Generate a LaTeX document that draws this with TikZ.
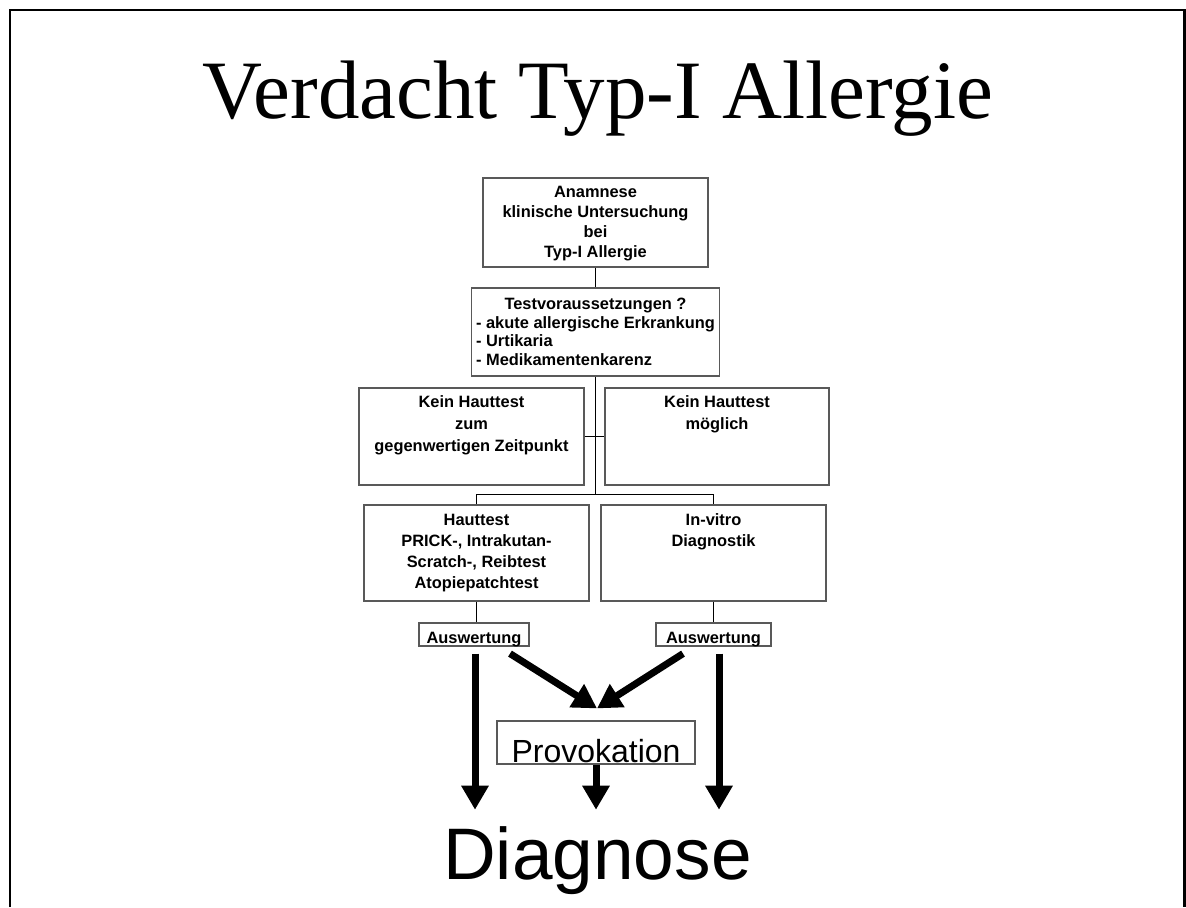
\documentclass[tikz,border=0pt]{standalone}
\usepackage{fontspec}
\setmainfont{Liberation Serif}
\setsansfont{Liberation Sans}
\usetikzlibrary{arrows.meta,positioning,calc}
\tikzset{
  >={Triangle[length=12pt,width=13pt]},
  vbox/.style={draw=black!65, line width=0.6pt, inner sep=0pt},
  vtxt/.style={inner sep=0pt, align=center, font=\fontsize{8.2}{10}\selectfont\sffamily\bfseries},
  vline/.style={draw=black, line width=0.5pt},
  vpfeil/.style={->, line width=3.5pt},
  vausw/.style={vbox, minimum height=11.5pt, text height=8.5pt, text depth=0pt,
                font=\fontsize{8.2}{10}\selectfont\sffamily\bfseries},
}

\begin{document}
\begin{tikzpicture}[x=0.5pt,y=-0.5pt]

  \useasboundingbox (0,0) rectangle (1186,907);

  % Rahmen
  \draw[line width=1.2pt] (10,907) -- (10,10) -- (1184.5,10) -- (1184.5,907);

  % Titel
  \node[anchor=base, inner sep=0pt, font=\fontsize{41.5}{49}\selectfont] (titel)
    at (598,118) {Verdacht Typ-I Allergie};

  % Kaesten
  \node[vbox, minimum width=112.5pt, minimum height=44.5pt] (anam)  at (595.5,222.5) {};
  \node[vbox, minimum width=124pt,   minimum height=44pt]   (test)  at (595.5,332)   {};
  \node[vbox, minimum width=112.5pt, minimum height=48.5pt] (kein1) at (471.5,436.5) {};
  \node[vbox, minimum width=112pt,   minimum height=48.5pt] (kein2) at (717,436.5)   {};
  \node[vbox, minimum width=112.5pt, minimum height=48pt]   (haut)  at (476.5,553)   {};
  \node[vbox, minimum width=112.5pt, minimum height=48pt]   (vitro) at (713.5,553)   {};

  \node[vtxt, below=4pt of anam.north] (anamT)
    {Anamnese\\klinische Untersuchung\\bei\\Typ-I Allergie};
  \node[inner sep=0pt, font=\fontsize{8.2}{9.25}\selectfont\sffamily\bfseries,
        below=4.4pt of test.north] (testT)
    {\begin{tabular}{@{}l@{}}
       \multicolumn{1}{@{}c@{}}{Testvoraussetzungen ?}\\
       - akute allergische Erkrankung\\
       - Urtikaria\\
       - Medikamentenkarenz
     \end{tabular}};
  \node[vtxt, font=\fontsize{8.2}{11}\selectfont\sffamily\bfseries,
        below=4pt of kein1.north] (kein1T)
    {Kein Hauttest\\zum\\gegenwertigen Zeitpunkt};
  \node[vtxt, font=\fontsize{8.2}{11}\selectfont\sffamily\bfseries,
        below=4pt of kein2.north] (kein2T)
    {Kein Hauttest\\möglich};
  \node[vtxt, font=\fontsize{8.2}{10.5}\selectfont\sffamily\bfseries,
        below=4.5pt of haut.north] (hautT)
    {Hauttest\\PRICK-, Intrakutan-\\Scratch-, Reibtest\\Atopiepatchtest};
  \node[vtxt, font=\fontsize{8.2}{10.5}\selectfont\sffamily\bfseries,
        below=4.5pt of vitro.north] (vitroT)
    {In-vitro\\Diagnostik};

  \node[vausw, minimum width=55pt]   (ausw1) at (474,634.5)   {Auswertung};
  \node[vausw, minimum width=57.5pt] (ausw2) at (713.5,634.5) {Auswertung};

  \node[vbox, anchor=base, minimum width=99pt, text height=20.5pt, text depth=1pt,
        font=\fontsize{16}{19}\selectfont\sffamily] (prov) at (596,762) {Provokation};

  \node[anchor=base, inner sep=0pt, inner ysep=8pt,
        font=\fontsize{36.5}{44}\selectfont\sffamily] (diag) at (597.5,879) {Diagnose};

  % duenne Verbindungen
  \coordinate (gabel) at ($(test.south)+(0,118)$);
  \draw[vline] (anam.south) -- (test.north);
  \draw[vline] (test.south) -- (gabel);
  \draw[vline] (kein1.east) -- (kein2.west);
  \draw[vline] (haut.north) |- (gabel) -| (vitro.north);
  \draw[vline] (haut.south) -- (haut.south |- ausw1.north);
  \draw[vline] (vitro.south) -- (vitro.south |- ausw2.north);

  % dicke Pfeile
  \coordinate (treff) at ($(prov.north)+(1,-12)$);
  \draw[vpfeil] ($(ausw1.south)+(1,7)$) -- ($(ausw1.south |- diag.north)+(1,0)$);
  \draw[vpfeil] ($(ausw2.south)+(5.5,7)$) -- ($(ausw2.south |- diag.north)+(5.5,0)$);
  \draw[vpfeil] ($(ausw1.south)+(36,7)$) -- (treff);
  \draw[vpfeil] ($(ausw2.south)+(-30.5,7)$) -- (treff);
  \draw[vpfeil] (prov.south) -- (prov.south |- diag.north);

\end{tikzpicture}
\end{document}
